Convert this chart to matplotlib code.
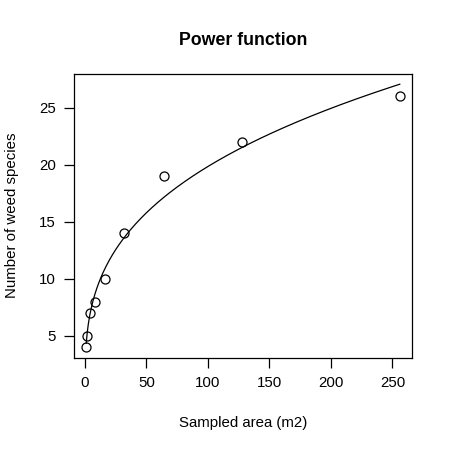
import numpy as np
import matplotlib
matplotlib.use("Agg")
import matplotlib.pyplot as plt

plt.rcParams["font.family"] = ["Liberation Sans", "DejaVu Sans"]

### Data ###
area = np.array([1, 2, 4, 8, 16, 32, 64, 128, 256])
species = np.array([4, 5, 7, 8, 10, 14, 19, 22, 26])


### Fit S = a * A^b (least squares, Gauss-Newton from log-log start) ###
def fit_power(x, y):
    b, loga = np.polyfit(np.log(x), np.log(y), 1)
    a = np.exp(loga)
    for _ in range(100):
        f = a * x ** b
        J = np.column_stack([x ** b, a * x ** b * np.log(x)])
        step = np.linalg.lstsq(J, y - f, rcond=None)[0]
        a, b = a + step[0], b + step[1]
        if np.abs(step).max() < 1e-10:
            break
    return a, b


a, b = fit_power(area, species)
xs = np.linspace(area.min(), area.max(), 300)
ys = a * xs ** b


### Plot ###
fig = plt.figure(figsize=(4.5, 4.5), dpi=100)
ax = fig.add_axes([73.7 / 450, 1 - 357.7 / 450, (412.3 - 73.7) / 450, (357.7 - 73.7) / 450])

ax.plot(area, species, "o", mfc="none", mec="black", ms=6.5, mew=0.9)
ax.plot(xs, ys, color="black", lw=0.9)

# R style 4% padding
xr = area.max() - area.min()
ax.set_xlim(area.min() - 0.04 * xr, area.max() + 0.04 * xr)
ylo, yhi = species.min(), ys.max()
yr = yhi - ylo
ax.set_ylim(ylo - 0.04 * yr, yhi + 0.04 * yr)

ax.set_xticks([0, 50, 100, 150, 200, 250])
ax.set_yticks([5, 10, 15, 20, 25])
ax.tick_params(direction="out", length=7, width=0.9, labelsize=10.8, pad=6)

for s in ax.spines.values():
    s.set_linewidth(0.9)

ax.set_title("Power function", fontsize=12.8, fontweight="bold", pad=21)
ax.set_xlabel("Sampled area (m2)", fontsize=10.8, labelpad=19)
ax.set_ylabel("Number of weed species", fontsize=10.8, labelpad=14)

plt.savefig("out.png", dpi=100)
